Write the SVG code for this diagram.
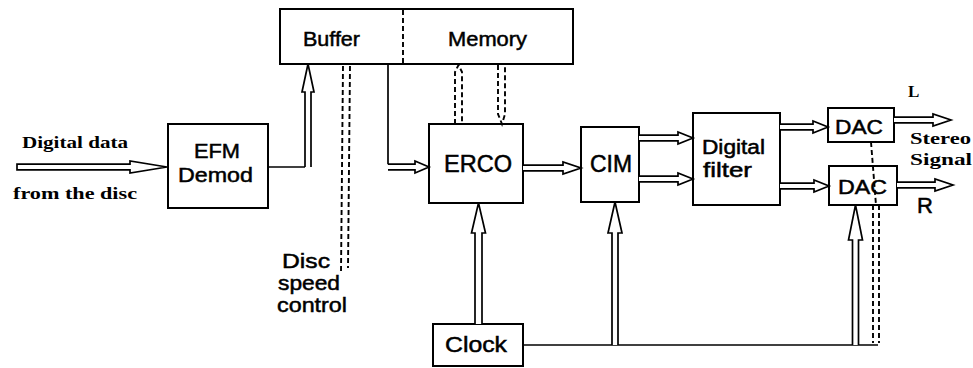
<svg xmlns="http://www.w3.org/2000/svg" width="973" height="368" viewBox="0 0 973 368">
<style>
.box{fill:#fff;stroke:#000;stroke-width:2}
.ln{fill:none;stroke:#000;stroke-width:1.7}
.ar{fill:#fff;stroke:#000;stroke-width:1.7;stroke-linejoin:miter}
.dash{fill:none;stroke:#000;stroke-width:1.9;stroke-dasharray:5 3}
.sans{font-family:"Liberation Sans",Arial,sans-serif;fill:#000;stroke:#000;stroke-width:0.5}
.serif{font-family:"Liberation Serif","Times New Roman",serif;font-weight:bold;fill:#000}
</style>
<rect width="973" height="368" fill="#fff"/>
<g id="nodes">
  <g id="input-label">
    <text class="serif" x="22" y="148" font-size="16" textLength="106" lengthAdjust="spacingAndGlyphs">Digital data</text>
    <text class="serif" x="13" y="199" font-size="16" textLength="124" lengthAdjust="spacingAndGlyphs">from the disc</text>
  </g>
  <g id="efm">
    <rect class="box" x="168" y="124" width="100" height="84"/>
    <text class="sans" x="194" y="158" font-size="21" textLength="46" lengthAdjust="spacingAndGlyphs">EFM</text>
    <text class="sans" x="178" y="182" font-size="21" textLength="75" lengthAdjust="spacingAndGlyphs">Demod</text>
  </g>
  <g id="buffer-memory">
    <rect class="box" x="280" y="9" width="293" height="55"/>
    <line class="dash" x1="403" y1="10" x2="403" y2="63"/>
    <text class="sans" x="303" y="46" font-size="21" textLength="57" lengthAdjust="spacingAndGlyphs">Buffer</text>
    <text class="sans" x="448" y="46" font-size="21" textLength="79" lengthAdjust="spacingAndGlyphs">Memory</text>
  </g>
  <g id="erco">
    <rect class="box" x="429" y="124" width="94" height="79"/>
    <text class="sans" x="444" y="172" font-size="23" textLength="68" lengthAdjust="spacingAndGlyphs">ERCO</text>
  </g>
  <g id="cim">
    <rect class="box" x="581" y="127" width="58" height="75"/>
    <text class="sans" x="590" y="172" font-size="23" textLength="42" lengthAdjust="spacingAndGlyphs">CIM</text>
  </g>
  <g id="filter">
    <rect class="box" x="693" y="113" width="87" height="92"/>
    <text class="sans" x="702" y="154" font-size="20" textLength="63" lengthAdjust="spacingAndGlyphs">Digital</text>
    <text class="sans" x="703" y="177" font-size="20" textLength="49" lengthAdjust="spacingAndGlyphs">filter</text>
  </g>
  <g id="dac-l">
    <rect class="box" x="828" y="108" width="66" height="34"/>
    <text class="sans" x="835" y="134" font-size="21" textLength="48" lengthAdjust="spacingAndGlyphs">DAC</text>
  </g>
  <g id="dac-r">
    <rect class="box" x="829" y="166" width="68" height="39"/>
    <text class="sans" x="838" y="194" font-size="21" textLength="49" lengthAdjust="spacingAndGlyphs">DAC</text>
  </g>
  <g id="clock">
    <rect class="box" x="433" y="324" width="90" height="42"/>
    <text class="sans" x="445" y="352" font-size="22" textLength="62" lengthAdjust="spacingAndGlyphs">Clock</text>
  </g>
  <g id="disc-label">
    <text class="sans" x="282" y="268" font-size="21" textLength="48" lengthAdjust="spacingAndGlyphs">Disc</text>
    <text class="sans" x="278" y="290" font-size="21" textLength="62" lengthAdjust="spacingAndGlyphs">speed</text>
    <text class="sans" x="277" y="312" font-size="21" textLength="70" lengthAdjust="spacingAndGlyphs">control</text>
  </g>
  <g id="output-labels">
    <text class="serif" x="908" y="97" font-size="17">L</text>
    <text class="serif" x="910" y="144" font-size="17" textLength="61" lengthAdjust="spacingAndGlyphs">Stereo</text>
    <text class="serif" x="910" y="165" font-size="17" textLength="62" lengthAdjust="spacingAndGlyphs">Signal</text>
    <text class="sans" x="917" y="213" font-size="22">R</text>
  </g>
</g>
<g id="connectors">
  <path class="ar" d="M17,164.2 H130 V161 L167,167 L130,173 V169.8 H17 Z"/>
  <path class="ln" d="M268,167 H305"/>
  <path class="ar" d="M305,167 V92 H302 L308,64 L314,92 H311 V167"/>
  <path class="ln" d="M388,64 V164.2"/>
  <path class="ar" d="M388,164.2 H415 V161 L429,167 L415,173 V169.8 H388"/>
  <path class="ar" d="M523,165.2 H563 V162 L581,168 L563,174 V170.8 H523"/>
  <path class="ar" d="M639,135.2 H678 V132 L693,138 L678,144 V140.8 H639"/>
  <path class="ar" d="M639,176.2 H678 V173 L693,179 L678,185 V181.8 H639"/>
  <path class="ar" d="M780,124.2 H813 V121 L828,127 L813,133 V129.8 H780"/>
  <path class="ar" d="M780,183.2 H814 V180 L829,186 L814,192 V188.8 H780"/>
  <path class="ar" d="M894,117.2 H933 V114 L951,120 L933,126 V122.8 H894"/>
  <path class="ar" d="M897,182.2 H935 V179 L953,185 L935,191 V187.8 H897"/>
  <path class="ln" d="M523,345 H878"/>
  <path class="ar" d="M475,324 V233 H471.5 L478.5,203 L485.5,233 H482 V324"/>
  <path class="ar" d="M612,345 V233 H608 L615,202 L622,233 H618 V345"/>
  <path class="ar" d="M852.5,345 V240 H848.5 L855.5,205 L862.5,240 H858.5 V345"/>
  <path class="dash" d="M343,66 L341,272"/>
  <path class="dash" d="M350,66 L348,268"/>
  <path class="dash" d="M455,124 V72 L458.5,65 L462,72 V124"/>
  <path class="dash" d="M498,65 V114 L502,124 L505,114 V65"/>
  <path class="dash" d="M871,142 L876,205"/>
  <path class="dash" d="M873,205 V343"/>
  <path class="dash" d="M879,205 V343"/>
</g>
</svg>
